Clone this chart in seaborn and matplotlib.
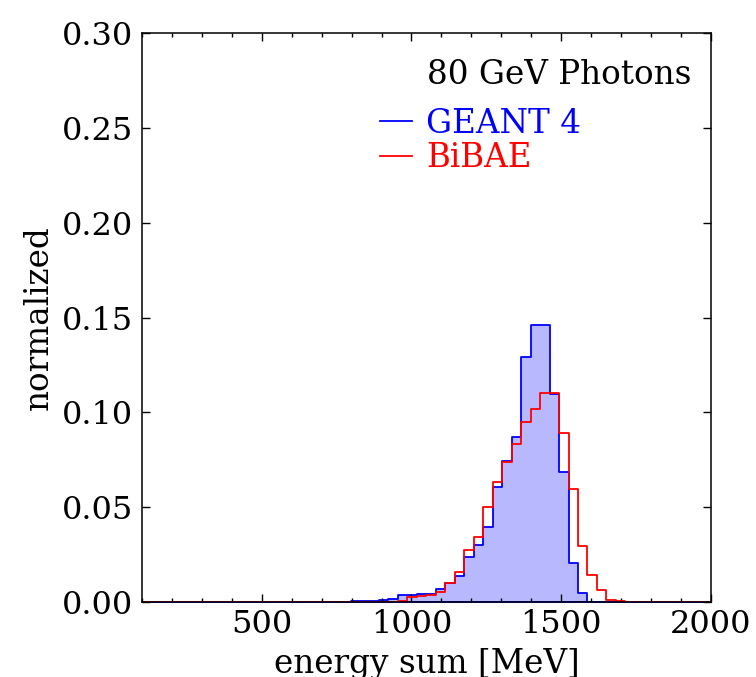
import numpy as np
import pandas as pd
import matplotlib
matplotlib.use("Agg")
import matplotlib.pyplot as plt
from matplotlib.lines import Line2D
from matplotlib.ticker import MultipleLocator
import seaborn as sns

# ---- data (normalized bin contents, 60 bins between 100 and 2000 MeV) ----
bin_lo, bin_hi, n_bins = 100, 2000, 60
geant4 = [0]*22 + [0.0003, 0.0004, 0.0006, 0.0011, 0.0016, 0.0034, 0.0034, 0.0040,
                   0.0040, 0.0067, 0.0102, 0.0137, 0.0234, 0.0301, 0.0397, 0.0605,
                   0.0745, 0.0868, 0.1293, 0.1460, 0.1460, 0.1095, 0.0687, 0.0205,
                   0.0048] + [0]*13
bibae = [0]*27 + [0.0006, 0.0025, 0.0032, 0.0038, 0.0054, 0.0102, 0.0160, 0.0274,
                  0.0341, 0.0503, 0.0634, 0.0740, 0.0831, 0.0951, 0.1016, 0.1104,
                  0.1104, 0.0893, 0.0596, 0.0295, 0.0142, 0.0063, 0.0011,
                  0.0005] + [0]*9
labels = ["GEANT 4", "BiBAE"]
title = "80 GeV Photons"
x_ticks = [500, 1000, 1500, 2000]
y_ticks = [0.00, 0.05, 0.10, 0.15, 0.20, 0.25, 0.30]

edges = [float(e) for e in np.linspace(bin_lo, bin_hi, n_bins + 1)]
centers = [0.5 * (edges[i] + edges[i + 1]) for i in range(n_bins)]
df = pd.DataFrame({"center": centers, "geant4": geant4, "bibae": bibae})

plt.rcParams["font.family"] = ["DejaVu Serif"]
plt.rcParams["mathtext.fontset"] = "dejavuserif"

fig = plt.figure(figsize=(7.56, 6.77), dpi=100)
ax = fig.add_axes([0.188, 0.111, 0.752, 0.840])

sns.histplot(data=df, x="center", weights="geant4", bins=edges, element="step",
             fill=True, color="blue", alpha=0.28, linewidth=1.3, ax=ax)
sns.histplot(data=df, x="center", weights="bibae", bins=edges, element="step",
             fill=False, color="red", linewidth=1.3, ax=ax)

ax.set_xlim(bin_lo, bin_hi)
ax.set_ylim(0, 0.30)
ax.set_xticks(x_ticks)
ax.set_yticks(y_ticks)
ax.set_yticklabels([f"{v:.2f}" for v in y_ticks])
ax.xaxis.set_minor_locator(MultipleLocator(100))
ax.tick_params(which="both", direction="in", top=True, right=True,
               labelsize=23)
ax.tick_params(axis="x", which="both", pad=5.5)
ax.tick_params(axis="y", which="both", pad=6.5)
ax.tick_params(which="major", length=6, width=1)
ax.tick_params(which="minor", length=3, width=1)
for s in ax.spines.values():
    s.set_linewidth(1.1)

ax.set_xlabel("energy sum [MeV]", fontsize=23.5, labelpad=5.5)
ax.set_ylabel("normalized", fontsize=23.5, labelpad=5)

ax.text(0.501, 0.926, title, transform=ax.transAxes, fontsize=23.5,
        ha="left", va="center", color="black")
handles = [Line2D([], [], color="blue", lw=1.3), Line2D([], [], color="red", lw=1.3)]
ax.legend(handles, labels, loc="upper left", bbox_to_anchor=(0.418, 0.869),
          frameon=False, fontsize=23.5, handlelength=1.0, handletextpad=0.43,
          labelspacing=0.07, borderpad=0, borderaxespad=0, labelcolor="linecolor")

fig.savefig("out.png", dpi=100)
